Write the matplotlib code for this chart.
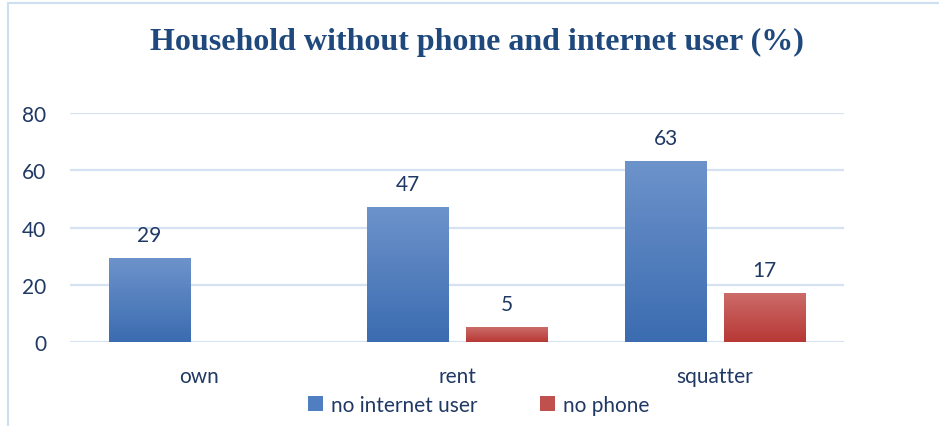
#!/usr/bin/env python3
"""Household without phone and internet user, by tenure type."""
import numpy as np
from matplotlib import pyplot as plt
from matplotlib.patches import Patch
from matplotlib.colors import LinearSegmentedColormap
from matplotlib.lines import Line2D

tenure = ["own", "rent", "squatter"]
no_internet = [29, 47, 63]
no_phone = [None, 5, 17]

TEXT = "#1f3864"
GRID = "#d6e1f1"
BLUE_TOP, BLUE_BOT = "#6d93cb", "#3b6cb0"
RED_TOP, RED_BOT = "#cc6b69", "#b73835"


def gradient_bars(ax, bars, top, bottom):
    """Paints each bar with a vertical gradient, light at the top."""
    cmap = LinearSegmentedColormap.from_list("g", [bottom, top])
    grad = np.linspace(0, 1, 256).reshape(-1, 1)
    for bar in bars:
        x0, y0 = bar.get_x(), bar.get_y()
        w, h = bar.get_width(), bar.get_height()
        bar.set_facecolor("none")
        ax.imshow(grad, cmap=cmap, origin="lower", aspect="auto",
                  extent=[x0, x0 + w, y0, y0 + h], zorder=2)


fig = plt.figure(figsize=(9.39, 4.27), dpi=100)
ax = fig.add_axes([0.0746, 0.1967, 0.8243, 0.5363])

x = np.arange(len(tenure))
width = 0.314
offset = 0.192

blue = ax.bar(x - offset, no_internet, width, linewidth=0, zorder=2)
gradient_bars(ax, blue, BLUE_TOP, BLUE_BOT)
for xi, v in zip(x, no_internet):
    ax.annotate(str(v), (xi - offset, v), xytext=(0, 17), textcoords="offset points",
                ha="center", va="center", fontsize=15, color=TEXT, family="Lato")

px = [xi + offset for xi, v in zip(x, no_phone) if v is not None]
pv = [v for v in no_phone if v is not None]
red = ax.bar(px, pv, width, linewidth=0, zorder=2)
gradient_bars(ax, red, RED_TOP, RED_BOT)
for xi, v in zip(px, pv):
    ax.annotate(str(v), (xi, v), xytext=(0, 17), textcoords="offset points",
                ha="center", va="center", fontsize=15, color=TEXT, family="Lato")

ax.set_xlim(-0.5, len(tenure) - 0.5)
ax.set_ylim(0, 80)
ax.set_yticks([0, 20, 40, 60, 80])
ax.set_xticks(x)
ax.set_xticklabels(tenure)
ax.yaxis.grid(True, color=GRID, linewidth=1.6, zorder=0)
ax.set_axisbelow(True)
for s in ax.spines.values():
    s.set_visible(False)
ax.tick_params(length=0, labelsize=15, labelcolor=TEXT)
ax.tick_params(axis="y", pad=17)
ax.tick_params(axis="x", pad=17)
for lab in ax.get_xticklabels() + ax.get_yticklabels():
    lab.set_family("Lato")

fig.suptitle("Household without phone and internet user (%)", x=0.508, y=0.935,
             fontsize=23, fontweight="bold", family="Liberation Serif", color="#1f497d")

handles = [Patch(facecolor="#4f7fc0", label="no internet user"),
           Patch(facecolor="#c0504d", label="no phone")]
fig.legend(handles=handles, loc="center", bbox_to_anchor=(0.51, 0.05), ncol=2,
           frameon=False, prop={"family": "Lato", "size": 15}, labelcolor=TEXT,
           handlelength=0.7, handleheight=0.7, handletextpad=0.4,
           columnspacing=3.0)

# light frame round the chart
fig.add_artist(Line2D([7.5 / 939, 7.5 / 939], [0, 1 - 4 / 427], color="#cfdff2",
                      linewidth=1.5, transform=fig.transFigure))
fig.add_artist(Line2D([7.5 / 939, 1], [1 - 4 / 427, 1 - 4 / 427], color="#cfdff2",
                      linewidth=1.5, transform=fig.transFigure))

fig.savefig("out.png", dpi=100)
